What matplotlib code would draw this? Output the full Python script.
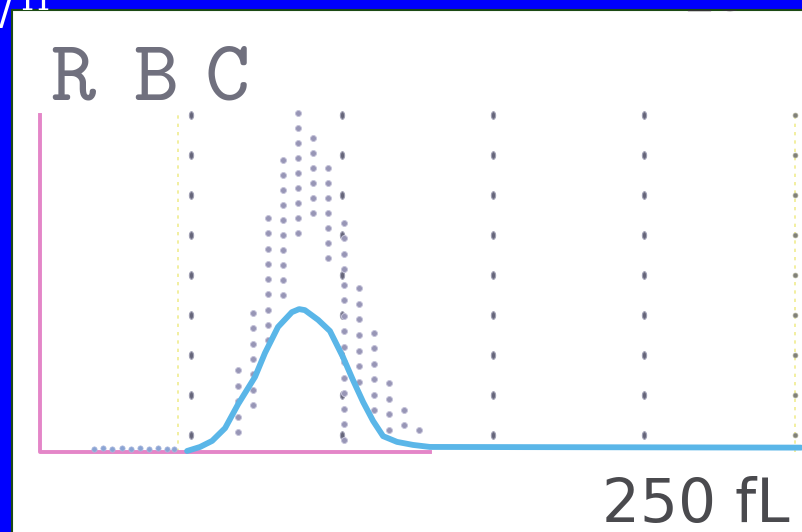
import numpy as np
import matplotlib.pyplot as plt

# RBC volume histogram (fL on x, relative count on y)
curve_fl = [48.7, 53.0, 57.0, 61.3, 65.6, 71.2, 74.5, 78.8, 83.4, 85.8, 87.7,
            92.1, 96.0, 100.3, 103.6, 107.0, 110.3, 113.6, 118.2, 123.5, 129.1, 252]
curve_y = [0.3, 1.5, 3.3, 7.1, 14.2, 22.3, 29.4, 37.1, 41.5, 42.4, 42.1,
           39.2, 35.9, 28.2, 21.4, 14.8, 9.2, 4.7, 3.0, 2.1, 1.5, 1.3]

# dotted reference columns: position, lowest dot, highest dot
ref_fl = [65.5, 70.5, 75.5, 80.5, 85.5, 90.5, 95.5, 100.5, 105.5, 110.5, 115.5, 120.5, 125.5]
ref_low = [5.9, 13.9, 33.2, 46.6, 65.0, 70.9, 57.6, 3.6, 20.8, 12.5, 6.5, 8.0, 6.5]
ref_high = [24.3, 41.2, 69.4, 86.6, 100.6, 93.2, 84.3, 68.0, 48.7, 35.3, 20.5, 12.5, 6.5]

# small counts below the discriminator
low_fl = [18, 21, 24, 27, 30, 33, 36, 39, 42, 44.5]
low_y = [1.0, 1.2, 1.0, 1.1, 1.0, 1.2, 1.0, 1.1, 1.0, 1.0]

grid_fl = [50, 100, 150, 200]
edge_fl = 250
disc_fl = 45.7
axis_x = [0, 0, 129]
axis_y = [100, 0, 0]
title_letters = ['R', 'B', 'C']
title_x = [3.3, 30.8, 54.6]

fig = plt.figure(figsize=(8.02, 5.32), dpi=100, facecolor='#0000ff')
ax = fig.add_axes([12 / 802, 0, 790 / 802, 522 / 532])
ax.set_facecolor('white')
ax.set_xlim(-9.27, 252.3)
ax.set_ylim(-23.74, 131.16)
ax.set_xticks([])
ax.set_yticks([])
for s in ['bottom', 'right']:
    ax.spines[s].set_visible(False)
for s in ['top', 'left']:
    ax.spines[s].set_color('#1c4a14')
    ax.spines[s].set_linewidth(1.5)

rows = np.linspace(5, 100, 9)
t = np.linspace(0, 2 * np.pi, 25)
oval = list(zip(0.55 * np.cos(t), np.sin(t)))

# yellow dotted discriminator lines
ax.plot([disc_fl, disc_fl], [0, 100], color='#f0ec90', lw=1.2, ls=(0, (2, 3)), zorder=1)
ax.plot([edge_fl, edge_fl], [0, 100], color='#f0ec90', lw=1.2, ls=(0, (2, 3)), zorder=1)

# grid dots
for g in grid_fl:
    ax.plot([g] * len(rows), rows, ls='none', marker=oval, ms=5.5, mfc='#66667a',
            mec='#a0a0b4', mew=0.8, zorder=2)
ax.plot([edge_fl] * len(rows), rows, ls='none', marker='o', ms=3.5, mfc='#80807a',
        mec='#b0b098', mew=0.5, zorder=2)

# reference dot columns
for x, lo, hi in zip(ref_fl, ref_low, ref_high):
    n = int(round((hi - lo) / 4.45)) + 1
    ys = np.linspace(lo, hi, n)
    ax.plot([x] * n, ys, ls='none', marker='o', ms=4.3, mfc='#9896b6',
            mec='#c6c4da', mew=0.7, zorder=2)

# pink axes
ax.plot(axis_x, axis_y, color='#e486c8', lw=2.8, solid_joinstyle='round', zorder=3)

ax.plot(low_fl, low_y, ls='none', marker='o', ms=3.8, mfc='#8aa4d4', mec='#b0bce0',
        mew=0.5, zorder=3)

# measured curve
ax.plot(curve_fl, curve_y, color='#5ab6e8', lw=4.2, solid_joinstyle='round',
        solid_capstyle='round', zorder=4)

for letter, x in zip(title_letters, title_x):
    ax.text(x, 104.5, letter, family='cmtt10', fontsize=62, color='#70707e',
            va='baseline', ha='left')
ax.text(248.3, -20.8, '250 fL', family='DejaVu Sans', fontsize=43, color='#4a4a4e',
        va='baseline', ha='right')
ax.text(224, 131.0, '15', family='DejaVu Sans', fontsize=40, color='#333333',
        va='baseline', ha='center', clip_on=True)

fig.text(-1 / 802, 1 - 24 / 532, '/', color='white', fontsize=30, family='DejaVu Sans')
fig.text(20 / 802, 1 - 10 / 532, 'H', color='white', fontsize=24, family='DejaVu Serif',
         zorder=0)

fig.savefig('out.png', dpi=100, facecolor=fig.get_facecolor())
